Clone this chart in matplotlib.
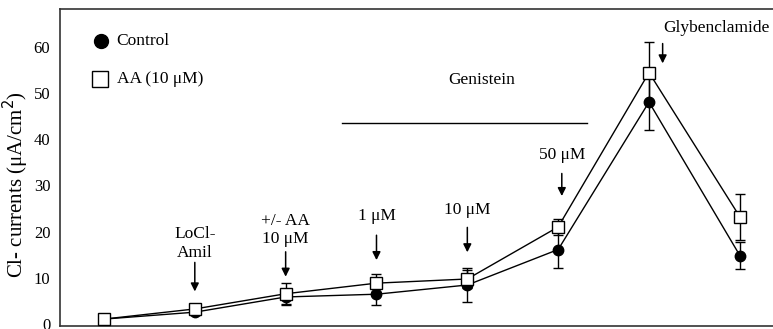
import matplotlib
matplotlib.use("Agg")
import matplotlib.pyplot as plt
import numpy as np

plt.rcParams['font.family'] = ['Liberation Serif', 'DejaVu Serif']

# Data
steps = [0, 1, 2, 3, 4, 5, 6, 7]
control = [1.0, 2.5, 5.8, 6.4, 8.4, 16.1, 48.1, 14.8]
control_err = [0.3, 0.6, 1.5, 2.4, 3.6, 4.0, 6.0, 3.0]
aa = [1.0, 3.2, 6.5, 8.8, 9.7, 21.0, 54.5, 23.2]
aa_err = [0.3, 0.6, 2.4, 2.0, 1.9, 1.8, 6.6, 5.0]
yticks = [0, 10, 20, 30, 40, 50, 60]

FS = 12.5

fig = plt.figure(figsize=(7.73, 3.29), dpi=100)
ax = fig.add_axes([60/773, 3/329, 1 - 60/773 + 0.01, (326 - 9)/329])

ax.errorbar(steps, control, yerr=control_err, color='black', lw=1, marker='o',
            ms=7.5, mfc='black', mec='black', capsize=3.5, elinewidth=1, zorder=3)
ax.errorbar(steps, aa, yerr=aa_err, color='black', lw=1, marker='s',
            ms=8, mfc='white', mec='black', mew=1, capsize=3.5, elinewidth=1, zorder=4)

ax.set_xlim(-0.484, 7.45)
ax.set_ylim(-0.5, 68.3)
ax.set_xticks([])
ax.set_yticks(yticks)
ax.tick_params(axis='y', length=0, labelsize=12, pad=7)
for s in ax.spines.values():
    s.set_color('#333333')
    s.set_linewidth(1.2)
ax.spines['right'].set_visible(False)

ax.set_ylabel('Cl- currents (μA/cm$^2$)', fontsize=15)
ax.yaxis.set_label_coords(-0.04, 0.445)

# Legend (manual)
ax.plot([-0.03], [61.4], marker='o', ms=10, color='black', clip_on=False)
ax.text(0.14, 61.4, 'Control', fontsize=FS, va='center', ha='left')
ax.plot([-0.04], [53.1], marker='s', ms=11, mfc='white', mec='black', mew=1, clip_on=False)
ax.text(0.14, 53.1, 'AA (10 μM)', fontsize=FS, va='center', ha='left')

ap = dict(arrowstyle='-|>', color='black', lw=1.1, mutation_scale=12, shrinkA=0, shrinkB=0)

def arrow(x, y0, y1):
    ax.annotate('', xy=(x, y1), xytext=(x, y0), arrowprops=ap)

ax.text(1, 17.4, 'LoCl-\nAmil', fontsize=FS, ha='center', va='center', linespacing=1.3)
arrow(1, 13.3, 7.0)
ax.text(2, 20.4, '+/- AA\n10 μM', fontsize=FS, ha='center', va='center', linespacing=1.2)
arrow(2, 15.6, 10.2)
ax.text(3, 23.4, '1 μM', fontsize=FS, ha='center', va='center')
arrow(3, 19.2, 13.8)
ax.text(4, 24.7, '10 μM', fontsize=FS, ha='center', va='center')
arrow(4, 20.9, 15.5)
ax.text(5.04, 36.6, '50 μM', fontsize=FS, ha='center', va='center')
arrow(5.04, 32.6, 27.7)
ax.text(6.74, 64.2, 'Glybenclamide', fontsize=FS, ha='center', va='center')
arrow(6.15, 60.8, 56.5)

ax.plot([2.62, 5.32], [43.5, 43.5], color='black', lw=1)
ax.text(4.16, 52.9, 'Genistein', fontsize=FS, ha='center', va='center')

fig.savefig('out.png', dpi=100)
